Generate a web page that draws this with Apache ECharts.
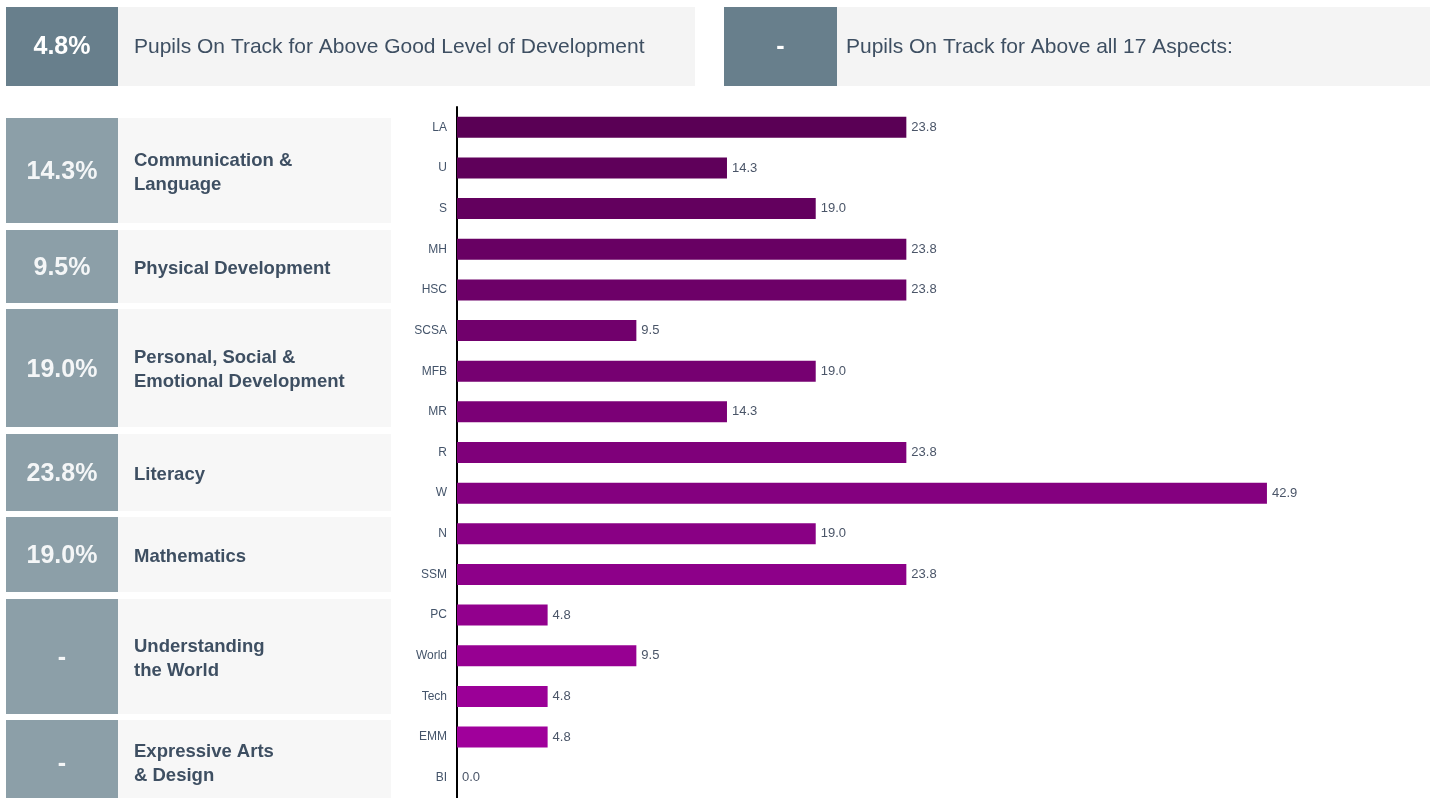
<!DOCTYPE html>
<html>
<head>
<meta charset="utf-8">
<script src="https://cdn.jsdelivr.net/npm/echarts@6/dist/echarts.min.js"></script>
<style>
html,body{margin:0;padding:0;background:#fff;}
#main{width:1437px;height:798px;}
</style>
</head>
<body>
<div id="main"></div>
<script>
// ---- data ----
const categories = ['LA','U','S','MH','HSC','SCSA','MFB','MR','R','W','N','SSM','PC','World','Tech','EMM','BI'];
const values = [23.8,14.3,19.0,23.8,23.8,9.5,19.0,14.3,23.8,42.9,19.0,23.8,4.8,9.5,4.8,4.8,0.0];
const headlineValues = ['4.8%','-'];
const headlineLabels = ['Pupils On Track for Above Good Level of Development','Pupils On Track for Above all 17 Aspects:'];
const areaValues = ['14.3%','9.5%','19.0%','23.8%','19.0%','-','-'];
const areaLabels = ['Communication &\nLanguage','Physical Development','Personal, Social &\nEmotional Development','Literacy','Mathematics','Understanding\nthe World','Expressive Arts\n& Design'];

// ---- styles ----
const barColors = ['#5a0055','#5f005a','#63005e','#680063','#6d0068','#71006c','#760071','#7b0076','#7f007a','#84007f','#890084','#8d0089','#92008d','#970092','#9b0097','#a0009b','#a400a0'];
const FONT = '"Liberation Sans", Arial, Helvetica, sans-serif';
const TEXT = '#3e4f62';

const headBoxes = [{x:6,y:7,h:79,sq:112,lw:577,pad:16},{x:724,y:7,h:79,sq:113,lw:593,pad:9}];
const areaBoxes = [[118,105],[230,73],[309,118],[434,77],[517,75],[599,115],[720,90]];

const graphics = [];
headBoxes.forEach((b,i)=>{
  graphics.push({type:'rect',shape:{x:b.x,y:b.y,width:b.sq,height:b.h},style:{fill:'#687f8c'},silent:true});
  graphics.push({type:'rect',shape:{x:b.x+b.sq,y:b.y,width:b.lw,height:b.h},style:{fill:'#f4f4f4'},silent:true});
  graphics.push({type:'text',x:b.x+b.sq/2,y:b.y+b.h/2+1,style:{text:headlineValues[i],fill:'#ffffff',font:'bold 25px '+FONT,align:'center',verticalAlign:'middle'},silent:true});
  graphics.push({type:'text',x:b.x+b.sq+b.pad,y:b.y+b.h/2+1,style:{text:headlineLabels[i],fill:TEXT,font:'21px '+FONT,align:'left',verticalAlign:'middle'},silent:true});
});
areaBoxes.forEach((b,i)=>{
  const y=b[0],h=b[1];
  const cy = i===6 ? 764 : y+h/2+2;
  graphics.push({type:'rect',shape:{x:6,y:y,width:112,height:h},style:{fill:'#8c9fa8'},silent:true});
  graphics.push({type:'rect',shape:{x:118,y:y,width:273,height:h},style:{fill:'#f7f7f7'},silent:true});
  graphics.push({type:'text',x:62,y:cy,style:{text:areaValues[i],fill:'#f4f6f7',font:'bold 25px '+FONT,align:'center',verticalAlign:'middle'},silent:true});
  graphics.push({type:'text',x:134,y:cy,style:{text:areaLabels[i],fill:TEXT,font:'bold 18.5px '+FONT,lineHeight:24,align:'left',verticalAlign:'middle'},silent:true});
});

const chart = echarts.init(document.getElementById('main'));
chart.setOption({
  animation:false,
  backgroundColor:'#ffffff',
  textStyle:{fontFamily:FONT},
  graphic:graphics,
  grid:{left:457,right:36,top:107,bottom:0,containLabel:false},
  xAxis:{type:'value',min:0,max:50,show:false,splitLine:{show:false}},
  yAxis:{
    type:'category',data:categories,inverse:true,
    axisLine:{show:true,lineStyle:{color:'#000',width:2}},
    axisTick:{show:false},
    axisLabel:{color:'#44546a',fontSize:12,margin:10,fontFamily:FONT}
  },
  series:[{
    type:'bar',
    data:values.map((v,i)=>({value:v,itemStyle:{color:barColors[i]}})),
    barWidth:21,
    label:{show:true,position:'right',distance:5,color:'#4a5568',fontSize:13,fontFamily:FONT,
      formatter:p=>Number(p.value).toFixed(1)}
  }]
});
</script>
</body>
</html>
